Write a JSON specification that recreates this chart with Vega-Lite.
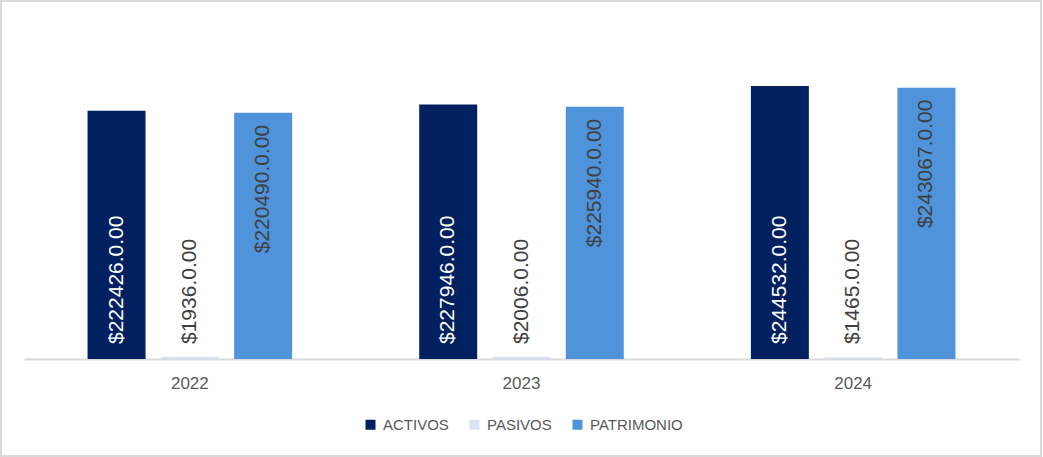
{
  "$schema": "https://vega.github.io/schema/vega-lite/v6.json",
  "width": 1040,
  "height": 455,
  "autosize": "none",
  "padding": 1,
  "background": "white",
  "config": {
    "view": {"stroke": "#d9d9d9", "strokeWidth": 2},
    "font": "Liberation Sans"
  },
  "data": {
    "values": [
      {"anio": "2022", "cuenta": "ACTIVOS", "valor": 222426, "etiqueta": "$222426.0.00"},
      {"anio": "2022", "cuenta": "PASIVOS", "valor": 1936, "etiqueta": "$1936.0.00"},
      {"anio": "2022", "cuenta": "PATRIMONIO", "valor": 220490, "etiqueta": "$220490.0.00"},
      {"anio": "2023", "cuenta": "ACTIVOS", "valor": 227946, "etiqueta": "$227946.0.00"},
      {"anio": "2023", "cuenta": "PASIVOS", "valor": 2006, "etiqueta": "$2006.0.00"},
      {"anio": "2023", "cuenta": "PATRIMONIO", "valor": 225940, "etiqueta": "$225940.0.00"},
      {"anio": "2024", "cuenta": "ACTIVOS", "valor": 244532, "etiqueta": "$244532.0.00"},
      {"anio": "2024", "cuenta": "PASIVOS", "valor": 1465, "etiqueta": "$1465.0.00"},
      {"anio": "2024", "cuenta": "PATRIMONIO", "valor": 243067, "etiqueta": "$243067.0.00"}
    ]
  },
  "encoding": {
    "x": {
      "field": "anio",
      "type": "nominal",
      "title": null,
      "scale": {"range": [23, 1018], "paddingInner": 0.337, "paddingOuter": 0.1685},
      "axis": {
        "offset": -97,
        "domainColor": "#d9d9d9",
        "domainWidth": 2,
        "ticks": false,
        "labelAngle": 0,
        "labelFontSize": 17,
        "labelColor": "#595959",
        "labelPadding": 16
      }
    },
    "xOffset": {
      "field": "cuenta",
      "type": "nominal",
      "sort": ["ACTIVOS", "PASIVOS", "PATRIMONIO"],
      "scale": {"paddingInner": 0.209, "paddingOuter": 0.1045}
    },
    "y": {
      "field": "valor",
      "type": "quantitative",
      "scale": {"domain": [-86883, 320661], "nice": false, "zero": false},
      "axis": null
    }
  },
  "layer": [
    {
      "mark": {"type": "bar"},
      "encoding": {
        "y2": {"datum": 0},
        "color": {
          "field": "cuenta",
          "type": "nominal",
          "sort": ["ACTIVOS", "PASIVOS", "PATRIMONIO"],
          "scale": {
            "domain": ["ACTIVOS", "PASIVOS", "PATRIMONIO"],
            "range": ["#002060", "#dae3f3", "#4f94db"]
          },
          "legend": {
            "title": null,
            "orient": "none",
            "direction": "horizontal",
            "legendX": 362,
            "legendY": 416,
            "padding": 0,
            "symbolType": "square",
            "symbolSize": 100,
            "symbolStrokeWidth": 0,
            "labelFontSize": 15,
            "labelColor": "#595959",
            "labelOffset": 5,
            "columnPadding": 18
          }
        }
      }
    },
    {
      "transform": [{"filter": "datum.cuenta == 'ACTIVOS'"}],
      "mark": {"type": "text", "angle": 270, "align": "left", "baseline": "middle", "dx": 15, "fontSize": 21, "color": "white"},
      "encoding": {"y": {"datum": 0}, "text": {"field": "etiqueta"}}
    },
    {
      "transform": [{"filter": "datum.cuenta == 'PASIVOS'"}],
      "mark": {"type": "text", "angle": 270, "align": "left", "baseline": "middle", "dx": 15, "fontSize": 21, "color": "#404040"},
      "encoding": {"y": {"datum": 0}, "text": {"field": "etiqueta"}}
    },
    {
      "transform": [{"filter": "datum.cuenta == 'PATRIMONIO'"}],
      "mark": {"type": "text", "angle": 270, "align": "right", "baseline": "middle", "dx": -12, "fontSize": 21, "color": "#404040"},
      "encoding": {"text": {"field": "etiqueta"}}
    }
  ]
}
